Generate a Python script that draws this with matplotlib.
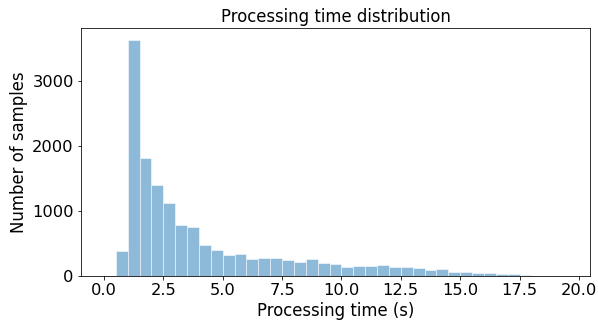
import numpy as np
import matplotlib
matplotlib.use("Agg")
import matplotlib.pyplot as plt

# histogram: 0.5 s bins from 0 to 19.5 s
bin_edges = np.arange(0, 20.0, 0.5)
counts = [0, 386, 3640, 1813, 1402, 1123, 788, 752, 484, 402,
          319, 335, 258, 278, 273, 242, 221, 258, 198, 180,
          139, 155, 160, 165, 139, 134, 124, 88, 108, 62,
          62, 46, 41, 31, 26, 10, 0, 0, 0]

fig = plt.figure(figsize=(598 / 72, 320 / 72), dpi=72)
ax = fig.add_axes([0.135, 0.1375, 0.852, 0.775])

ax.hist(bin_edges[:-1], bins=bin_edges, weights=counts,
        color="C0", alpha=0.5, edgecolor="white", linewidth=1)

ax.set_title("Processing time distribution", fontsize=16.5)
ax.set_xlabel("Processing time (s)", fontsize=16.5)
ax.set_ylabel("Number of samples", fontsize=16.5)
ax.tick_params(labelsize=16.3)
ax.set_xticks(np.arange(0, 20.1, 2.5))

fig.savefig("out.png", dpi=72)
